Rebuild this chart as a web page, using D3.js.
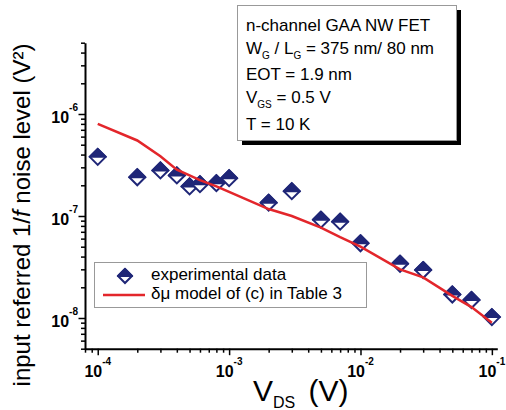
<!DOCTYPE html>
<html>
<head>
<meta charset="utf-8">
<script src="https://cdn.jsdelivr.net/npm/d3@7"></script>
<style>
  body { margin: 0; background: #fff; }
  svg { display: block; font-family: "Liberation Sans", Arial, sans-serif; }
</style>
</head>
<body>
<div id="viz"></div>
<script>
// drain voltage (V) for the measured points
const vds = [1e-4, 2e-4, 3e-4, 4e-4, 5e-4, 6e-4, 8e-4, 1e-3, 2e-3, 3e-3,
             5e-3, 7e-3, 1e-2, 2e-2, 3e-2, 5e-2, 7e-2, 1e-1];
// experimental input referred noise (V^2)
const noiseExp = [3.8e-7, 2.4e-7, 2.8e-7, 2.5e-7, 1.95e-7, 2.05e-7, 2.1e-7, 2.35e-7, 1.35e-7, 1.75e-7,
                  9.2e-8, 8.8e-8, 5.4e-8, 3.4e-8, 2.95e-8, 1.7e-8, 1.5e-8, 1.02e-8];
// delta-mu model curve
const noiseModel = [8.0e-7, 5.5e-7, 3.85e-7, 2.85e-7, 2.5e-7, 2.25e-7, 1.95e-7, 1.72e-7, 1.17e-7, 1.0e-7,
                    7.7e-8, 6.2e-8, 5.0e-8, 3.0e-8, 2.5e-8, 1.65e-8, 1.28e-8, 9.0e-9];

const xTickLabels = [[1e-4, "-4"], [1e-3, "-3"], [1e-2, "-2"], [1e-1, "-1"]];
const yTickLabels = [[1e-8, "-8"], [1e-7, "-7"], [1e-6, "-6"]];

const legendLabels = ["experimental data", "\u03b4\u03bc model of (c) in Table 3"];

// text of the info box, [text, isSubscript]
const infoLines = [
    [["n-channel GAA NW FET", false]],
    [["W", false], ["G", true], [" / L", false], ["G", true], [" = 375 nm/ 80 nm", false]],
    [["EOT = 1.9 nm", false]],
    [["V", false], ["GS", true], [" = 0.5 V", false]],
    [["T = 10 K", false]]
];

const width = 506, height = 410;
const navy = "#1f2677";
const red = "#e3262b";

const svg = d3.select("#viz").append("svg")
    .attr("width", width)
    .attr("height", height);

const x = d3.scaleLog().domain([8e-5, 0.11]).range([85, 497.3]);
const y = d3.scaleLog().domain([5e-9, 5e-6]).range([348.7, 42.7]);

const isMajor = d => Math.abs(Math.log10(d) - Math.round(Math.log10(d))) < 1e-6;

// axes
const xAxis = svg.append("g")
    .attr("transform", `translate(0,${y.range()[0]})`)
    .call(d3.axisBottom(x).tickValues(x.ticks()).tickFormat("").tickSizeOuter(0));
xAxis.select(".domain").attr("stroke-width", 2);
xAxis.selectAll(".tick line")
    .attr("y2", d => isMajor(d) ? 6.5 : 4)
    .attr("stroke-width", 1.5);

const yAxis = svg.append("g")
    .attr("transform", `translate(${x.range()[0]},0)`)
    .call(d3.axisLeft(y).tickValues(y.ticks()).tickFormat("").tickSizeOuter(0));
yAxis.select(".domain").attr("stroke-width", 2);
yAxis.selectAll(".tick line")
    .attr("x2", d => isMajor(d) ? -6.5 : -4)
    .attr("stroke-width", 1.5);

// tick labels (10 with superscript exponent)
xTickLabels.forEach(([v, e]) => {
    const t = svg.append("text")
        .attr("x", x(v))
        .attr("y", 377)
        .attr("text-anchor", "middle")
        .attr("font-weight", "bold")
        .attr("font-size", "16px");
    t.append("tspan").text("10");
    t.append("tspan").attr("font-size", "10px").attr("dy", -12).text(e);
});

yTickLabels.forEach(([v, e]) => {
    const t = svg.append("text")
        .attr("x", 78)
        .attr("y", y(v) + 9)
        .attr("text-anchor", "end")
        .attr("font-weight", "bold")
        .attr("font-size", "16px");
    t.append("tspan").text("10");
    t.append("tspan").attr("font-size", "10px").attr("dy", -12).text(e);
});

// axis titles
const xTitle = svg.append("text")
    .attr("x", 253)
    .attr("y", 401)
    .attr("font-size", "30px");
xTitle.append("tspan").text("V");
xTitle.append("tspan").attr("font-size", "16px").attr("dy", 7).text("DS");
xTitle.append("tspan").attr("dy", -7).attr("dx", 5).text(" (V)");

const yTitle = svg.append("text")
    .attr("transform", "translate(30,215) rotate(-90)")
    .attr("text-anchor", "middle")
    .attr("font-size", "24px");
yTitle.append("tspan").text("input referred 1/");
yTitle.append("tspan").attr("font-style", "italic").text("f");
yTitle.append("tspan").text(" noise level (V\u00b2)");

// diamond marker: white lower half, filled upper half
function diamond(g, cx, cy, r) {
    g.append("path")
        .attr("d", `M${cx},${cy - r}L${cx + r},${cy}L${cx},${cy + r}L${cx - r},${cy}Z`)
        .attr("fill", "#fff")
        .attr("stroke", navy)
        .attr("stroke-width", 2);
    g.append("path")
        .attr("d", `M${cx},${cy - r}L${cx + r},${cy}L${cx - r},${cy}Z`)
        .attr("fill", navy)
        .attr("stroke", navy)
        .attr("stroke-width", 2)
        .attr("stroke-linejoin", "round");
}

const points = svg.append("g");
vds.forEach((v, i) => diamond(points, x(v), y(noiseExp[i]), 8));

// model line
const line = d3.line()
    .x(d => x(d[0]))
    .y(d => y(d[1]));
svg.append("path")
    .datum(vds.map((v, i) => [v, noiseModel[i]]))
    .attr("d", line)
    .attr("fill", "none")
    .attr("stroke", red)
    .attr("stroke-width", 2.5);

// legend
const legend = svg.append("g");
legend.append("rect")
    .attr("x", 94.5).attr("y", 262.5)
    .attr("width", 272).attr("height", 45)
    .attr("fill", "#fff")
    .attr("stroke", "#999")
    .attr("stroke-width", 1);
diamond(legend, 125, 276, 7);
legend.append("line")
    .attr("x1", 103).attr("x2", 145)
    .attr("y1", 295).attr("y2", 295)
    .attr("stroke", red)
    .attr("stroke-width", 2.5);
legend.selectAll("text.lg")
    .data(legendLabels)
    .enter().append("text")
    .attr("class", "lg")
    .attr("x", 151)
    .attr("y", (d, i) => 280 + i * 19)
    .attr("font-size", "17px")
    .text(d => d);

// info box with drop shadow
const info = svg.append("g");
info.append("rect")
    .attr("x", 242).attr("y", 10)
    .attr("width", 219).attr("height", 135)
    .attr("fill", "#000");
info.append("rect")
    .attr("x", 237.5).attr("y", 5.5)
    .attr("width", 219).attr("height", 135)
    .attr("fill", "#fff")
    .attr("stroke", "#999")
    .attr("stroke-width", 1);
const baselines = [31, 54, 80, 103, 130];
infoLines.forEach((segs, i) => {
    const t = info.append("text")
        .attr("x", 246)
        .attr("y", baselines[i])
        .attr("font-size", "17px");
    segs.forEach(([s, sub], j) => {
        const prev = j > 0 ? segs[j - 1][1] : false;
        t.append("tspan")
            .attr("font-size", sub ? "10px" : "17px")
            .attr("dy", sub && !prev ? 5 : (!sub && prev ? -5 : 0))
            .text(s);
    });
});
</script>
</body>
</html>
